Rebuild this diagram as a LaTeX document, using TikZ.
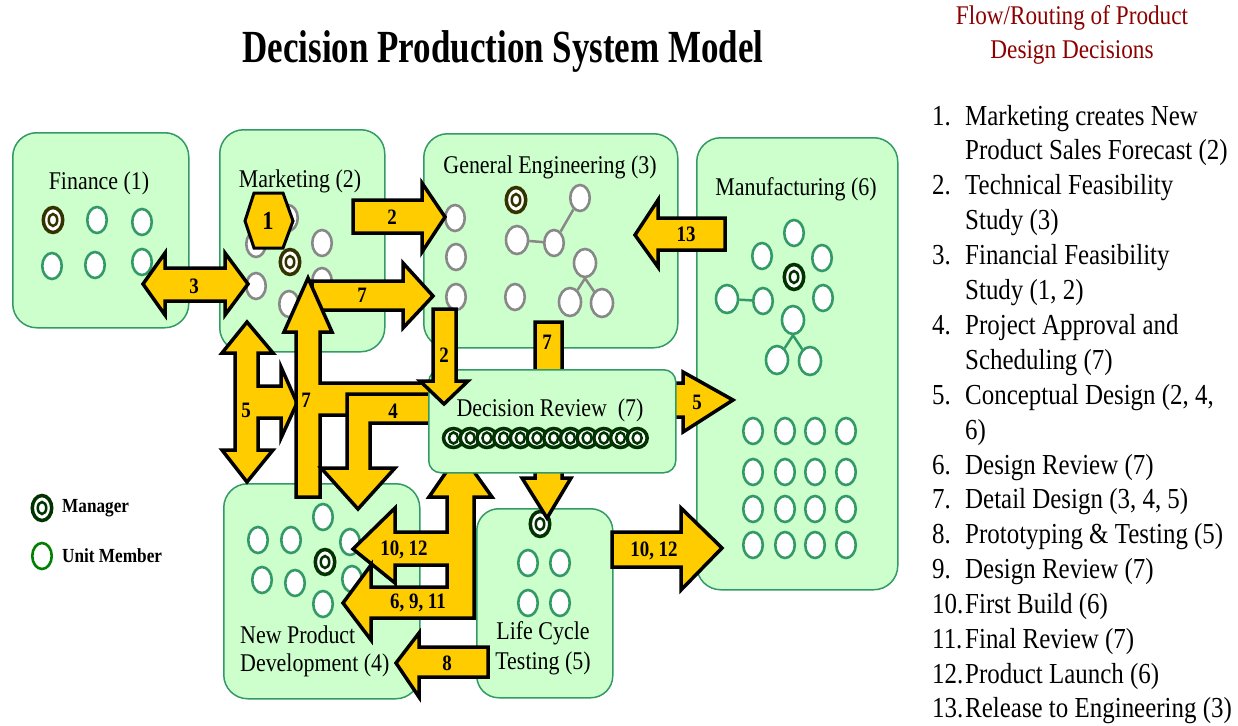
\documentclass[tikz,border=0pt]{standalone}
\usepackage{fontspec}
\setmainfont{Liberation Serif}[FakeStretch=0.86]
\newfontfamily\titlefont{Liberation Serif}[FakeStretch=0.76]
\usetikzlibrary{shapes.geometric}
\definecolor{boxfill}{RGB}{204,255,204}
\definecolor{boxline}{RGB}{51,153,102}
\definecolor{ovgray}{RGB}{136,136,136}
\definecolor{ovgreen}{RGB}{51,153,102}
\definecolor{mgrolive}{RGB}{51,51,0}
\definecolor{mgrgreen}{RGB}{0,51,0}
\definecolor{legreen}{RGB}{0,128,0}
\definecolor{arrowyellow}{RGB}{255,204,0}
\definecolor{headred}{RGB}{140,0,0}
\tikzset{
  unitbox/.style={draw=boxline, line width=1.5pt, fill=boxfill, rounded corners=24pt, inner sep=0pt, anchor=north west},
  member/.style={ellipse, draw=#1, line width=2.6pt, fill=white, minimum width=19.5pt, minimum height=26pt, inner sep=0pt},
  bigov/.style={minimum width=22pt, minimum height=28pt},
  mgrout/.style={ellipse, draw=#1, line width=3.5pt, fill=white, minimum width=19.5pt, minimum height=25pt, inner sep=0pt},
  mgrin/.style={ellipse, draw=#1, line width=2.5pt, minimum width=8.5pt, minimum height=12pt, inner sep=0pt},
  linkgray/.style={draw=ovgray, line width=2.5pt},
  linkgreen/.style={draw=ovgreen, line width=2.5pt},
  blockarrow/.style={draw=black, line width=3.5pt, fill=arrowyellow, line join=miter},
  arrowlabel/.style={font=\fontsize{22}{24}\selectfont\bfseries, inner sep=0pt},
  boxlabel/.style={font=\fontsize{25.5}{30}\selectfont, inner sep=0pt},
  listnum/.style={font=\fontsize{29}{34}\selectfont, anchor=base west, inner sep=0pt},
  legendtext/.style={font=\fontsize{20}{24}\selectfont\bfseries, anchor=west, inner sep=0pt},
}
\newcommand\unitov[4]{\node[member=#4] (#1) at (#2,#3) {};}
\newcommand\bigunitov[4]{\node[member=#4, bigov] (#1) at (#2,#3) {};}
\newcommand\mgrov[4]{\node[mgrout=#4] (#1) at (#2,#3) {};\node[mgrin=#4] (#1i) at (#2,#3) {};}
\begin{document}
\begin{tikzpicture}[x=1pt,y=-1pt]
\useasboundingbox (0,0) rectangle (1238,725);

% ---------- titles ----------
\node[font=\titlefont\bfseries\fontsize{46}{50}\selectfont, inner sep=0pt] (title) at (503,52) {Decision Production System Model};
\node[font=\fontsize{27}{30}\selectfont, text=headred, inner sep=0pt] (hdr1) at (1072,18) {Flow/Routing of Product};
\node[font=\fontsize{27}{30}\selectfont, text=headred, inner sep=0pt] (hdr2) at (1072,52) {Design Decisions};

% ---------- list ----------
\node[listnum] (n1) at (932,125) {1.};
\node[listnum] (t1a) at (965,125) {Marketing creates New};
\node[listnum] (t1b) at (965,159.9) {Product Sales Forecast (2)};
\node[listnum] (n2) at (932,194.8) {2.};
\node[listnum] (t2a) at (965,194.8) {Technical Feasibility};
\node[listnum] (t2b) at (965,229.7) {Study (3)};
\node[listnum] (n3) at (932,264.6) {3.};
\node[listnum] (t3a) at (965,264.6) {Financial Feasibility};
\node[listnum] (t3b) at (965,299.5) {Study (1, 2)};
\node[listnum] (n4) at (932,334.4) {4.};
\node[listnum] (t4a) at (965,334.4) {Project Approval and};
\node[listnum] (t4b) at (965,369.3) {Scheduling (7)};
\node[listnum] (n5) at (932,404.2) {5.};
\node[listnum] (t5a) at (965,404.2) {Conceptual Design (2, 4,};
\node[listnum] (t5b) at (965,439.1) {6)};
\node[listnum] (n6) at (932,474) {6.};
\node[listnum] (t6) at (965,474) {Design Review (7)};
\node[listnum] (n7) at (932,508.9) {7.};
\node[listnum] (t7) at (965,508.9) {Detail Design (3, 4, 5)};
\node[listnum] (n8) at (932,543.8) {8.};
\node[listnum] (t8) at (965,543.8) {Prototyping \& Testing (5)};
\node[listnum] (n9) at (932,578.7) {9.};
\node[listnum] (t9) at (965,578.7) {Design Review (7)};
\node[listnum] (n10) at (932,613.6) {10.};
\node[listnum] (t10) at (965,613.6) {First Build (6)};
\node[listnum] (n11) at (932,648.5) {11.};
\node[listnum] (t11) at (965,648.5) {Final Review (7)};
\node[listnum] (n12) at (932,683.4) {12.};
\node[listnum] (t12) at (965,683.4) {Product Launch (6)};
\node[listnum] (n13) at (932,717) {13.};
\node[listnum] (t13) at (965,717) {Release to Engineering (3)};

% ---------- legend ----------
\node[mgrout=mgrgreen] (legm) at (42,508) {};
\node[mgrin=mgrgreen] (legmi) at (42,508) {};
\node[legendtext] (legmt) at (62,508) {Manager};
\node[member=legreen] (legu) at (42,556) {};
\node[legendtext] (legut) at (62,556) {Unit Member};

% ---------- boxes ----------
\node[unitbox, minimum width=176pt, minimum height=195pt] (finance) at (12,132) {};
\node[unitbox, minimum width=165pt, minimum height=222pt] (marketing) at (219,129) {};
\node[unitbox, minimum width=254pt, minimum height=214pt] (geneng) at (423,133) {};
\node[unitbox, minimum width=201pt, minimum height=452pt] (manuf) at (696,137) {};
\node[unitbox, minimum width=196pt, minimum height=215pt] (npd) at (223,483) {};
\node[unitbox, minimum width=136pt, minimum height=189pt, rounded corners=22pt] (lct) at (476,508) {};

\node[boxlabel] (finlbl) at (99,183) {Finance (1)};
\node[boxlabel] (mktlbl) at (300,181) {Marketing (2)};
\node[boxlabel] (gelbl) at (550,167) {General Engineering (3)};
\node[boxlabel] (mflbl) at (796,189) {Manufacturing (6)};
\node[boxlabel, anchor=west] (npdlbl1) at (240,635) {New Product};
\node[boxlabel, anchor=west] (npdlbl2) at (240,665) {Development (4)};
\node[boxlabel] (lctlbl1) at (543,633) {Life Cycle};
\node[boxlabel] (lctlbl2) at (543,663) {Testing (5)};

% finance members
\mgrov{fm0}{53}{220}{mgrolive}
\unitov{fm1}{97}{220}{ovgreen}
\unitov{fm2}{142}{222}{ovgreen}
\unitov{fm3}{52}{266}{ovgreen}
\unitov{fm4}{95}{265}{ovgreen}
\unitov{fm5}{142}{262}{ovgreen}

% marketing members
\unitov{mk1}{288}{218}{ovgray}
\unitov{mk2}{256}{244}{ovgray}
\unitov{mk3}{322}{243}{ovgray}
\unitov{mk4}{256}{286}{ovgray}
\unitov{mk5}{322}{281}{ovgray}
\unitov{mk6}{289}{304}{ovgray}
\mgrov{mk0}{290}{262}{mgrolive}

% general engineering members
\mgrov{ge0}{516}{200}{mgrolive}
\unitov{ge1}{455}{218}{ovgray}
\unitov{ge2}{456}{257}{ovgray}
\unitov{ge3}{456}{297}{ovgray}
\bigunitov{ge4}{517}{240}{ovgray}
\unitov{ge5}{554}{243}{ovgray}
\unitov{ge6}{580}{198}{ovgray}
\unitov{ge7}{515}{297}{ovgray}
\bigunitov{ge8}{585}{263}{ovgray}
\bigunitov{ge9}{570}{302}{ovgray}
\bigunitov{ge10}{602}{303}{ovgray}
\draw[linkgray] (ge4) -- (ge5);
\draw[linkgray] (ge5) -- (ge6);
\draw[linkgray] (ge8.south) -- (ge9);
\draw[linkgray] (ge8.south) -- (ge10);

% manufacturing members
\unitov{mf1}{794}{233}{ovgreen}
\unitov{mf2}{762}{256}{ovgreen}
\unitov{mf3}{822}{258}{ovgreen}
\mgrov{mf0}{794}{277}{mgrgreen}
\bigunitov{mf4}{727}{299}{ovgreen}
\unitov{mf5}{763}{301}{ovgreen}
\unitov{mf6}{823}{298}{ovgreen}
\bigunitov{mf7}{793}{320}{ovgreen}
\bigunitov{mf8}{777}{360}{ovgreen}
\bigunitov{mf9}{810}{361}{ovgreen}
\draw[linkgreen] (mf4) -- (mf5);
\draw[linkgreen] (mf7.south) -- (mf8);
\draw[linkgreen] (mf7.south) -- (mf9);
\foreach \i/\x in {1/753,2/785,3/815,4/846}
  \foreach \j/\y in {1/431,2/472,3/509,4/545}
    \node[member=ovgreen] (mg\i\j) at (\x,\y) {};

% NPD members
\unitov{np1}{323}{517}{ovgreen}
\unitov{np2}{258}{540}{ovgreen}
\unitov{np3}{291}{540}{ovgreen}
\unitov{np4}{350}{542}{ovgreen}
\mgrov{np0}{325}{562}{mgrgreen}
\unitov{np5}{262}{580}{ovgreen}
\unitov{np6}{295}{583}{ovgreen}
\unitov{np7}{352}{579}{ovgreen}
\unitov{np8}{323}{604}{ovgreen}

% LCT members
\mgrov{lc0}{540}{524}{mgrgreen}
\unitov{lc1}{528}{563}{ovgreen}
\unitov{lc2}{560}{563}{ovgreen}
\unitov{lc3}{528}{603}{ovgreen}
\unitov{lc4}{560}{603}{ovgreen}

% ---------- block arrows ----------
% 3 : Finance <-> Marketing
\draw[blockarrow] (143,284) -- (165,253) -- (165,268) -- (225,268) -- (225,253) -- (248,284) -- (225,315) -- (225,301) -- (165,301) -- (165,315) -- cycle;
\node[arrowlabel] (l3) at (194,286) {3};
% 2 : Marketing -> General Engineering
\draw[blockarrow] (353,200) -- (422,200) -- (422,183) -- (445,217) -- (422,252) -- (422,233) -- (353,233) -- cycle;
\node[arrowlabel] (l2a) at (392,217) {2};
% 7 : right to General Engineering
\draw[blockarrow] (312,281) -- (403,281) -- (403,263) -- (433,296) -- (403,328) -- (403,310) -- (312,310) -- cycle;
\node[arrowlabel] (l7a) at (362,295) {7};
% 5 : H-shaped double arrow
\draw[blockarrow] (247,322) -- (273,353) -- (258,353) -- (258,386) -- (281,386) -- (281,367) -- (297,403) -- (281,438) -- (281,418) -- (258,418) -- (258,450) -- (273,450) -- (247,482) -- (222,450) -- (235,450) -- (235,353) -- (222,353) -- cycle;
\node[arrowlabel] (l5a) at (246,410) {5};
% 7 : vertical T arrow up to Marketing
\draw[blockarrow] (308,278) -- (332,332) -- (320,332) -- (320,383) -- (432,383) -- (432,415) -- (320,415) -- (320,497) -- (296,497) -- (296,332) -- (284,332) -- cycle;
\node[arrowlabel] (l7b) at (306,400) {7};
% 4 : L arrow down to NPD
\draw[blockarrow] (432,394) -- (347,394) -- (347,468) -- (321,468) -- (358,509) -- (395,468) -- (370,468) -- (370,423) -- (432,423) -- cycle;
\node[arrowlabel] (l4) at (393,411) {4};
% 13 : Manufacturing -> General Engineering
\draw[blockarrow] (725,218) -- (658,218) -- (658,200) -- (635,235) -- (658,267) -- (658,250) -- (725,250) -- cycle;
\node[arrowlabel] (l13) at (686,234) {13};
% 7 : General Engineering -> Life Cycle Testing
\draw[blockarrow] (535,322) -- (562,322) -- (562,478) -- (571,478) -- (547,518) -- (522,478) -- (535,478) -- cycle;
\node[arrowlabel] (l7c) at (547,342) {7};
% Decision Review -> NPD (10,12 / 6,9,11)
\draw[blockarrow] (460,452) -- (492,497) -- (474,497) -- (474,618) -- (371,618) -- (371,640) -- (343,603) -- (371,565) -- (371,587) -- (447,587) -- (447,565) -- (395,565) -- (395,583) -- (353,549) -- (395,508) -- (395,532) -- (447,532) -- (447,497) -- (429,497) -- cycle;
\node[arrowlabel] (l1012a) at (404,550) {10, 12};
\node[arrowlabel] (l6911) at (418,603) {6, 9, 11};
% 10,12 : LCT -> Manufacturing
\draw[blockarrow] (612,532) -- (681,532) -- (681,508) -- (722,548) -- (681,590) -- (681,567) -- (612,567) -- cycle;
\node[arrowlabel] (l1012b) at (654,551) {10, 12};
% 8 : LCT -> NPD
\draw[blockarrow] (488,647) -- (419,647) -- (419,633) -- (396,663) -- (419,697) -- (419,677) -- (488,677) -- cycle;
\node[arrowlabel] (l8) at (447,663) {8};
% 5 : Decision Review -> Manufacturing
\draw[blockarrow] (660,383) -- (683,383) -- (683,372) -- (733,400) -- (683,432) -- (683,417) -- (660,417) -- cycle;
\node[arrowlabel] (l5b) at (697,402) {5};

% ---------- Decision Review ----------
\node[unitbox, minimum width=247pt, minimum height=103pt, rounded corners=12pt] (decrev) at (428,369) {};
\node[boxlabel] (drlbl) at (550,410) {Decision Review\ \ (7)};
\foreach \i in {0,...,11}{
  \node[mgrout=mgrgreen, minimum width=20pt, minimum height=19pt, line width=3.5pt] (dr\i) at ({453.5+16.7*\i},438) {};
  \node[mgrin=mgrgreen, minimum width=9pt, minimum height=11pt] (dr\i i) at ({453.5+16.7*\i},438) {};
}

% 2 : General Engineering -> Decision Review
\draw[blockarrow] (433,309) -- (456,309) -- (456,381) -- (468,381) -- (444,404) -- (420,381) -- (433,381) -- cycle;
\node[arrowlabel] (l2b) at (444,355) {2};

% hexagon 1
\draw[blockarrow, line width=3pt] (245,221) -- (254,193) -- (283,193) -- (293,221) -- (283,248) -- (254,248) -- cycle;
\node[arrowlabel, font=\fontsize{26}{28}\selectfont\bfseries] (hex1) at (268,221) {1};
\end{tikzpicture}
\end{document}
